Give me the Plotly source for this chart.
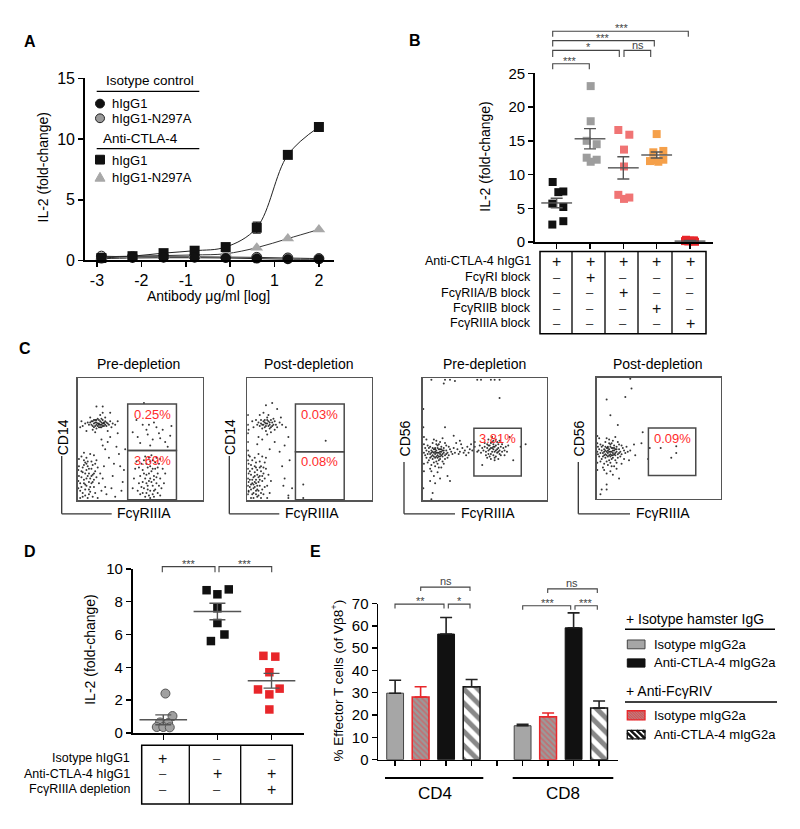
import plotly.graph_objects as go

W, H = 800, 829
def X(p): return p / W
def Y(p): return 1 - p / H
FONT = "Liberation Sans, Arial, Helvetica, sans-serif"

# ---------------- Panel A data ----------------
a_log_conc = [-2.9, -2.2, -1.5, -0.8, -0.1, 0.6, 1.3, 2.0]
a_iso_hIgG1 = [0.15, 0.2, 0.22, 0.22, 0.2, 0.15, 0.1, 0.1]
a_iso_n297a = [0.35, 0.3, 0.3, 0.3, 0.28, 0.25, 0.2, 0.15]
a_ctla4_hIgG1 = [0.2, 0.35, 0.6, 0.8, 1.1, 2.7, 8.7, 11.0]
a_ctla4_hIgG1_err = [0.1, 0.1, 0.15, 0.1, 0.15, 0.45, 0.25, 0.3]
a_ctla4_n297a = [0.3, 0.35, 0.4, 0.45, 0.55, 1.05, 1.8, 2.55]
a_yticks = [0, 5, 10, 15]
a_xticks = [-3, -2, -1, 0, 1, 2]
a_xticktext = ["-3", "-2", "-1", "0", "1", "2"]

# ---------------- Panel B data ----------------
b_values = [
    [8.9, 7.4, 7.5, 5.7, 5.2, 2.6, 3.1],
    [23.1, 17.9, 15.0, 14.5, 12.5, 12.2, 11.9],
    [16.6, 15.9, 13.7, 11.2, 7.0, 6.6, 6.4],
    [16.0, 13.5, 13.3, 12.2, 12.1, 11.9, 12.0],
    [0.35, 0.25, 0.2, 0.1, 0.05, 0.2, 0.15],
]
b_jitter = [
    [-0.12, 0.05, 0.2, -0.13, 0.2, -0.13, 0.2],
    [0.02, 0.02, -0.1, 0.2, -0.1, 0.2, 0.02],
    [-0.15, 0.18, 0.02, 0.02, -0.15, 0.18, 0.02],
    [0.0, 0.2, -0.1, 0.2, -0.1, 0.05, -0.2],
    [-0.12, 0.12, 0.0, -0.05, 0.15, 0.08, -0.15],
]
b_mean = [5.8, 15.3, 11.0, 12.9, 0.15]
b_sem = [0.7, 1.5, 1.65, 0.45, 0.1]
b_colors = ["#111111", "#9d9d9d", "#f07474", "#f5a04a", "#e8262a"]
b_row_labels = ["Anti-CTLA-4 hIgG1", "FcγRI block", "FcγRIIA/B block", "FcγRIIB block", "FcγRIIIA block"]
b_table = [
    ["+", "+", "+", "+", "+"],
    ["–", "+", "–", "–", "–"],
    ["–", "–", "+", "–", "–"],
    ["–", "–", "–", "+", "–"],
    ["–", "–", "–", "–", "+"],
]
b_yticks = [0, 5, 10, 15, 20, 25]

# ---------------- Panel C data (flow dots) ----------------
c1_dots = [
    (17,63),(15,64),(19,62),(13,63),(21,64),(16,61),(18,65),(14,61),(20,66),(12,65),(22,62),(17,60),(15,66),(19,60),(11,62),
    (23,64),(16,67),(18,62),(14,64),(20,63),(13,60),(21,61),(17,66),(10,64),(24,63),(15,62),(19,64),(12,61),(22,65),(16,63),
    (18,60),(14,66),(20,61),(9,62),(25,62),(17,62),(13,66),(21,63),(11,65),(23,61),(8,64),(26,65),(15,59),(19,67),(6,63),
    (28,63),(12,58),(22,68),(4,61),(30,62),(10,68),(27,60),(3,65),(18,70),(7,57),(32,65),(14,56),(24,57),(2,60),(20,72),
    (8,20),(6,22),(10,18),(5,17),(12,21),(7,25),(9,15),(4,23),(11,26),(6,13),(13,17),(3,19),(8,28),(10,11),(5,29),(14,24),
    (2,14),(9,22),(7,18),(11,14),(4,27),(12,29),(6,9),(15,19),(3,24),(8,32),(10,7),(1,20),(13,11),(5,33),(16,27),(2,8),(9,5),
    (7,35),(14,6),(4,3),(11,32),(17,14),(1,28),(6,4),(12,3),(18,22),(3,36),(15,33),(0.5,10),(8,2),(19,8),(1,34),(16,2),(10,38),
    (20,18),(2,2),(13,37),(0.5,16),(21,28),(5,39),(0.5,25),(22,11),(7,12),(9,26),(5,14),(11,20),(3,11),(13,22),(7,30),(9,9),
    (4,6),(12,15),(6,31),(14,30),
    (25,35),(28,20),(23,5),(31,44),(27,10),(34,28),(24,48),(30,3),(36,15),(26,52),(33,38),(22,42),(29,30),(35,8),(38,42),
    (20,45),(37,25),(19,50),(32,55),(26,72),(15,77),(20,77),
    (55,30),(58,28),(60,33),(52,25),(62,26),(57,22),(54,18),(61,20),(59,15),(56,12),(63,14),(53,10),(58,8),(60,5),(55,6),
    (62,9),(50,20),(64,22),(57,35),(51,30),(65,30),(49,14),(66,18),(54,3),(61,3),(48,8),(67,10),(59,24),(56,27),(53,33),
    (63,35),(46,26),(68,26),(58,18),(55,21),(60,12),(57,4),(52,15),(64,6),(47,32),(69,14),(50,5),(62,31),(45,18),(66,34),
    (59,37),(54,36),(61,17),(56,9),(58,2),(53,22),(63,19),(51,11),(65,12),(57,16),(60,26),(44,10),(70,22),(49,27),(66,4),
    (55,14),(61,8),(58,32),(52,6),(64,27),
    (48,52),(55,58),(60,50),(65,55),(52,62),(70,48),(58,45),(63,60),(47,66),(74,53),(56,54),(68,58),(61,64),(50,47),(72,44),
    (66,51),(57,62),(44,56),(75,61),(53,80),
]
c2_dots = [
    (16,63),(14,64),(18,62),(12,62),(20,64),(15,61),(17,65),(13,65),(19,60),(11,63),(21,62),(16,66),(14,60),(18,64),(10,61),
    (22,65),(15,63),(17,61),(13,62),(19,66),(12,59),(20,61),(16,68),(9,64),(23,62),(14,66),(18,59),(11,66),(21,67),(8,62),
    (24,60),(15,57),(17,70),(7,66),(26,64),(13,72),(19,56),(5,60),(28,62),(10,70),(22,58),(4,65),(27,68),(16,54),(31,60),
    (22,48),(30,45),(12,50),(26,40),(18,42),(33,52),(8,46),(24,75),(20,80),(15,78),(34,33),(28,28),(9,52),(36,10),(33,4),(30,18),
    (0.5,5),(0.5,12),(0.5,18),(0.5,26),(0.5,33),(0.5,41),(0.5,48),(0.5,55),(0.5,62),(0.5,70),(1,8),(1,22),(1,37),(1,58),
    (7,17),(5,19),(9,15),(4,14),(10,20),(6,23),(8,12),(3,21),(11,24),(5,10),(12,16),(2,17),(7,27),(9,8),(4,26),(13,22),(2,11),
    (8,21),(6,15),(10,12),(3,29),(11,28),(5,6),(14,18),(2,24),(7,31),(9,4),(1,15),(12,9),(4,33),(15,26),(1,7),(8,3),(6,35),
    (13,5),(3,2),(10,32),(16,12),(1,30),(5,2),(11,2),(17,21),(2,36),(14,31),(7,8),(18,6),(12,36),(16,2),(9,38),(19,16),(6,20),
    (8,25),(4,17),(10,17),(3,9),(11,6),(6,28),(13,27),(5,13),(9,19),(7,14),(8,9),(12,20),(4,5),(14,11),(6,11),(10,27),(15,35),
    (3,13),(7,5),
    (63,49),(45,13),(45,2),(29,12),(33,2),
]
c3_dots = [
    (12,39),(10,40),(14,38),(8,37),(16,41),(11,36),(13,42),(9,39),(15,37),(7,41),(17,39),(12,43),(10,35),(14,40),(6,38),
    (18,37),(11,39),(13,36),(9,42),(15,40),(8,34),(16,38),(12,45),(5,40),(19,41),(10,43),(14,34),(7,36),(17,43),(4,38),
    (20,39),(11,32),(13,46),(6,44),(18,34),(9,31),(15,44),(3,41),(21,37),(12,30),(8,47),(16,32),(2,37),(22,42),(10,28),
    (14,48),(5,33),(19,45),(7,29),(17,30),(4,45),(23,40),(11,49),(13,27),(3,35),(20,35),(9,50),(15,27),(2,43),(24,38),
    (6,26),(18,47),(12,35),(10,38),(14,42),(8,40),(16,36),(11,41),(13,39),(9,36),(15,42),(7,39),(12,37),(10,42),(14,36),
    (6,35),(17,41),(5,43),(19,38),(8,43),(11,46),(13,33),(4,31),(21,44),(1,39),(1,30),(1,46),(1,24),(1,52),(25,43),(26,39),
    (7,24),(12,23),(3,50),(16,51),(9,20),(14,18),(6,16),(20,20),(10,14),(22,16),(8,6),(7,1),(0.5,10),(0.5,60),(0.5,75),
    (28,42),(30,40),(32,43),(34,41),(36,44),(29,38),(33,39),(38,42),(31,46),(35,37),(40,41),(27,47),(37,39),(42,44),(39,46),
    (30,49),(25,53),(44,40),
    (57,42),(55,43),(59,41),(53,41),(61,43),(56,40),(58,44),(54,45),(60,39),(52,43),(62,41),(57,46),(55,38),(59,45),(51,40),
    (63,44),(56,43),(58,40),(54,42),(60,42),(53,38),(61,46),(57,37),(50,44),(64,40),(55,47),(59,36),(52,46),(62,38),(49,41),
    (65,43),(56,48),(58,35),(53,45),(61,40),(48,43),(66,41),(54,36),(60,48),(51,37),(63,37),(57,49),(47,39),(67,44),(55,34),
    (59,50),(50,47),(64,46),(52,35),(62,49),(68,40),(46,45),(56,52),(58,33),(69,45),(45,41),(53,50),(61,34),(66,37),(57,44),
    (70,52),(83,46),(73,33),(79,44),(48,29),(42,48),
    (7,99),(18,99),(22,99),(26,98),(44,99),(47,99),(55,99),(58,99),(62,99),(17,96),(62,84),(18,60),
]
c4_dots = [
    (11,39),(9,40),(13,38),(7,37),(15,41),(10,36),(12,42),(8,39),(14,37),(6,41),(16,39),(11,43),(9,35),(13,40),(5,38),
    (17,37),(10,39),(12,36),(8,42),(14,40),(7,34),(15,38),(11,45),(4,40),(18,41),(9,43),(13,34),(6,36),(16,43),(3,38),
    (19,39),(10,32),(12,46),(5,44),(17,34),(8,31),(14,44),(2,41),(20,37),(11,30),(7,47),(15,32),(1,37),(21,42),(9,28),
    (13,48),(4,33),(18,45),(6,29),(16,30),(3,45),(22,40),(10,49),(12,27),(2,35),(19,35),(8,50),(14,27),(1,43),(23,38),
    (5,26),(17,47),(11,35),(9,38),(13,42),(7,40),(15,36),(10,41),(12,39),(8,36),(14,42),(6,39),(11,37),(9,42),(13,36),
    (5,35),(16,41),(4,43),(18,38),(7,43),(10,46),(12,33),(3,31),(20,44),(0.5,39),(0.5,30),(0.5,46),(0.5,24),(0.5,52),
    (24,43),(25,39),(6,24),(11,23),(2,50),(15,51),(8,21),(13,20),(16,25),(20,29),(22,33),
    (27,99),(28,91),(8,82),(23,84),(11,69),(17,61),(37,55),(36,46),(30,45),(27,40),(31,36),(26,32),(4,8),(8,12),(8,8),
    (18,17),(3,4),
    (51.5,42),(42.7,42),(64,43.5),(64,38),(60,34),(41.3,33),
]
c_titles = ["Pre-depletion", "Post-depletion", "Pre-depletion", "Post-depletion"]
c_ylabels = ["CD14", "CD14", "CD56", "CD56"]
c_xlabel = "FcγRIIIA"
# gates: (x0, y0, x1, y1, percent label)
c_gates = [
    [(40, 41, 79, 79, "0.25%"), (40, 0.5, 79, 41, "3.69%")],
    [(38.7, 40, 77.9, 79, "0.03%"), (38.7, 0.5, 77.9, 40, "0.08%")],
    [(41.3, 20, 79.5, 59.2, "3.81%")],
    [(41.6, 19.5, 79.7, 58.4, "0.09%")],
]

# ---------------- Panel D data ----------------
d_values = [
    [2.4, 1.03, 0.64, 0.6, 0.36, 0.36, 0.34],
    [8.7, 8.75, 8.45, 7.6, 6.7, 6.0, 5.6],
    [4.7, 4.65, 3.7, 2.65, 2.7, 2.35, 1.43],
]
d_jitter = [
    [0.04, 0.17, -0.06, 0.09, -0.12, 0.0, 0.12],
    [-0.2, 0.21, 0.0, 0.0, 0.0, 0.13, -0.12],
    [-0.15, 0.07, -0.04, -0.25, 0.15, -0.04, -0.04],
]
d_mean = [0.8, 7.4, 3.18]
d_sem = [0.3, 0.5, 0.45]
d_row_labels = ["Isotype hIgG1", "Anti-CTLA-4 hIgG1", "FcγRIIIA depletion"]
d_table = [["+", "–", "–"], ["–", "+", "+"], ["–", "–", "+"]]
d_yticks = [0, 2, 4, 6, 8, 10]

# ---------------- Panel E data ----------------
e_groups = ["CD4", "CD8"]
e_series = ["Isotype mIgG2a", "Isotype mIgG2a + anti-FcγRIV", "Anti-CTLA-4 mIgG2a", "Anti-CTLA-4 mIgG2a + anti-FcγRIV"]
e_values = [[29.8, 15.2], [28.1, 19.2], [56.3, 59.1], [32.7, 23.1]]
e_err = [[5.8, 0.7], [4.6, 1.7], [7.4, 6.7], [3.2, 3.2]]
e_yticks = [0, 10, 20, 30, 40, 50, 60, 70]

# =====================================================================
fig = go.Figure()
shapes, annotations = [], []

def txt(x, y, s, size=13, xanchor="center", yanchor="middle", angle=0, color="black", bold=False):
    if bold:
        s = "<b>" + s + "</b>"
    annotations.append(dict(x=X(x), y=Y(y), xref="paper", yref="paper", text=s, showarrow=False,
                            xanchor=xanchor, yanchor=yanchor, textangle=angle,
                            font=dict(size=size, color=color, family=FONT)))

def seg(x0, y0, x1, y1, color="black", width=1.5):
    shapes.append(dict(type="line", xref="paper", yref="paper", x0=X(x0), y0=Y(y0), x1=X(x1), y1=Y(y1),
                       line=dict(color=color, width=width)))

def box(x0, y0, x1, y1, color="black", width=1.5, fill="rgba(0,0,0,0)"):
    shapes.append(dict(type="rect", xref="paper", yref="paper", x0=X(x0), y0=Y(y0), x1=X(x1), y1=Y(y1),
                       line=dict(color=color, width=width), fillcolor=fill))

def bracket(x1, x2, ytop, drop, label, lx=None, fs=11, color="#444"):
    path = "M{},{} L{},{} L{},{} L{},{}".format(X(x1), Y(ytop + drop), X(x1), Y(ytop), X(x2), Y(ytop), X(x2), Y(ytop + drop))
    shapes.append(dict(type="path", xref="paper", yref="paper", path=path, line=dict(color=color, width=1.1)))
    if lx is None:
        lx = (x1 + x2) / 2
    if label == "ns":
        txt(lx, ytop - 6, label, size=fs, color=color)
    else:
        txt(lx, ytop - 3, label, size=fs, color=color)

def hatch(x0, y0, x1, y1, step, color, width):
    c = x0 - y1
    while c < x1 - y0:
        lo = max(y0, x0 - c)
        hi = min(y1, x1 - c)
        if lo < hi:
            seg(lo + c, lo, hi + c, hi, color=color, width=width)
        c += step

axis_common = dict(showgrid=False, zeroline=False, showline=True, linecolor="black", linewidth=1.8,
                   ticks="outside", ticklen=5, tickwidth=1.5, tickcolor="black",
                   tickfont=dict(family=FONT, size=15, color="black"))

# ---------------- Panel A ----------------
for yv, col in [(a_iso_n297a, "#333"), (a_ctla4_n297a, "#333"), (a_ctla4_hIgG1, "#222"), (a_iso_hIgG1, "#222")]:
    fig.add_trace(go.Scatter(x=a_log_conc, y=yv, mode="lines", line=dict(color=col, width=1, shape="spline", smoothing=1.0),
                             xaxis="x", yaxis="y", showlegend=False, hoverinfo="skip", cliponaxis=False))
fig.add_trace(go.Scatter(x=a_log_conc, y=a_iso_n297a, mode="markers", xaxis="x", yaxis="y", showlegend=False, cliponaxis=False,
                         marker=dict(symbol="circle", size=10, color="#9a9a9a", line=dict(color="#222", width=1))))
fig.add_trace(go.Scatter(x=a_log_conc, y=a_ctla4_n297a, mode="markers", xaxis="x", yaxis="y", showlegend=False, cliponaxis=False,
                         marker=dict(symbol="triangle-up", size=11, color="#a8a8a8")))
fig.add_trace(go.Scatter(x=a_log_conc, y=a_ctla4_hIgG1, mode="markers", xaxis="x", yaxis="y", showlegend=False, cliponaxis=False,
                         error_y=dict(type="data", array=a_ctla4_hIgG1_err, color="#222", thickness=1.2, width=4),
                         marker=dict(symbol="square", size=10, color="#111")))
fig.add_trace(go.Scatter(x=a_log_conc, y=a_iso_hIgG1, mode="markers", xaxis="x", yaxis="y", showlegend=False, cliponaxis=False,
                         marker=dict(symbol="circle", size=10, color="#111")))

# Legend A (manual)
txt(150, 73.3, "Isotype control", size=13.5)
seg(96.7, 84.3, 199.3, 84.3, width=1.3)
shapes.append(dict(type="circle", xref="paper", yref="paper", x0=X(95.5), x1=X(104.5), y0=Y(101.2), y1=Y(92.2),
                   fillcolor="#111", line=dict(color="#111", width=1)))
txt(110, 97, "hIgG1", size=13, xanchor="left")
shapes.append(dict(type="circle", xref="paper", yref="paper", x0=X(95.5), x1=X(104.5), y0=Y(116.2), y1=Y(107.2),
                   fillcolor="#9a9a9a", line=dict(color="#222", width=1)))
txt(110, 112, "hIgG1-N297A", size=13, xanchor="left")
txt(140, 132.3, "Anti-CTLA-4", size=13.5)
seg(96.7, 142.7, 199.3, 142.7, width=1.3)
box(95.5, 149.5, 104.5, 158.5, color="#111", width=1, fill="#111")
txt(110, 154.5, "hIgG1", size=13, xanchor="left")
shapes.append(dict(type="path", xref="paper", yref="paper",
                   path="M{},{} L{},{} L{},{} Z".format(X(95), Y(176), X(105), Y(176), X(100), Y(167)),
                   fillcolor="#a8a8a8", line=dict(color="#a8a8a8", width=1)))
txt(110, 172, "hIgG1-N297A", size=13, xanchor="left")
txt(43, 162, "IL-2 (fold-change)", size=14, angle=-90)
txt(208, 293, "Antibody μg/ml [log]", size=14)

# ---------------- Panel B ----------------
for k in range(5):
    xs = [k + j for j in b_jitter[k]]
    fig.add_trace(go.Scatter(x=xs, y=b_values[k], mode="markers", xaxis="x2", yaxis="y2", showlegend=False, cliponaxis=False,
                             marker=dict(symbol="square", size=8, color=b_colors[k])))
fig.add_trace(go.Scatter(x=list(range(5)), y=b_mean, mode="markers", xaxis="x2", yaxis="y2", showlegend=False, cliponaxis=False,
                         marker=dict(symbol="line-ew", size=22, line=dict(color="#555", width=1.4)),
                         error_y=dict(type="data", array=b_sem, color="#555", thickness=1.4, width=6)))
box(540, 248, 706, 332, width=1.5)
b_cols = [556.7, 590, 623.3, 656.7, 690]
for dx in [572, 605, 638, 672]:
    seg(dx, 248, dx, 332, width=1.3)
b_rows = [258, 274, 290, 306, 321]
for r, lab in enumerate(b_row_labels):
    txt(533, b_rows[r], lab, size=12.5, xanchor="right")
    for c in range(5):
        s = b_table[r][c]
        txt(b_cols[c], b_rows[r], s, size=16 if s == "+" else 13, color="#111" if s == "+" else "#333")
txt(485, 150, "IL-2 (fold-change)", size=14, angle=-90)
bracket(552.7, 688.3, 22.7, 5.6, "***", lx=622)
bracket(552.7, 654.3, 32.3, 6, "***", lx=603)
bracket(552.7, 619.3, 42.3, 6.7, "*", lx=588)
bracket(624, 650.7, 42.3, 6.7, "ns", lx=637.7)
bracket(552.7, 589.3, 56, 5.7, "***", lx=570)

# ---------------- Panel C ----------------
c_dom_x = [(77.7, 202.7), (247.3, 371.7), (422.7, 546.7), (596.7, 721)]
c_dom_y = [(377.7, 502.3), (377.7, 502.3), (377.7, 502.3), (376.7, 501)]
c_all = [c1_dots, c2_dots, c3_dots, c4_dots]
c_title_x = [138, 309, 485, 658]
c_ylab_x = [63.3, 230, 405, 579]
c_ylab_y = [437.5, 437.5, 439, 439]
c_corner_x = [61.7, 229.3, 404, 578.3]
c_hend_x = [111.7, 279.3, 455, 630]
c_xlab_x = [144, 312, 488.3, 663.3]
c_vtop = [457, 457, 463, 463]
for i in range(4):
    xa, ya = "x%d" % (i + 3), "y%d" % (i + 3)
    dots = c_all[i]
    fig.add_trace(go.Scatter(x=[p[0] for p in dots], y=[p[1] for p in dots], mode="markers",
                             xaxis=xa, yaxis=ya, showlegend=False, hoverinfo="skip",
                             marker=dict(size=2, color="rgba(20,20,20,0.85)", line=dict(width=0))))
    for (gx0, gy0, gx1, gy1, lab) in c_gates[i]:
        shapes.append(dict(type="rect", xref=xa, yref=ya, x0=gx0, y0=gy0, x1=gx1, y1=gy1,
                           line=dict(color="#4a4a4a", width=1.5)))
        annotations.append(dict(x=(gx0 + gx1) / 2, y=gy1 - 8.5, xref=xa, yref=ya, text=lab, showarrow=False,
                                font=dict(size=13, color="#ff2b2b", family=FONT)))
    txt(c_title_x[i], 363, c_titles[i], size=14)
    txt(c_ylab_x[i], c_ylab_y[i], c_ylabels[i], size=14, angle=-90)
    seg(c_corner_x[i], c_vtop[i], c_corner_x[i], 516, color="#333", width=1.3)
    seg(c_corner_x[i], 516, c_hend_x[i], 516, color="#333", width=1.3)
    txt(c_xlab_x[i], 515, c_xlabel, size=14)

# ---------------- Panel D ----------------
d_style = [dict(symbol="circle", size=9, color="#a0a0a0", line=dict(color="#555", width=1)),
           dict(symbol="square", size=8.5, color="#111"),
           dict(symbol="square", size=8.5, color="#e8262a")]
for k in range(3):
    xs = [k + j for j in d_jitter[k]]
    fig.add_trace(go.Scatter(x=xs, y=d_values[k], mode="markers", xaxis="x7", yaxis="y7", showlegend=False,
                             cliponaxis=False, marker=d_style[k]))
fig.add_trace(go.Scatter(x=[0, 1, 2], y=d_mean, mode="markers", xaxis="x7", yaxis="y7", showlegend=False, cliponaxis=False,
                         marker=dict(symbol="line-ew", size=34, line=dict(color="#555", width=1.4)),
                         error_y=dict(type="data", array=d_sem, color="#555", thickness=1.4, width=8)))
box(141.7, 752.7, 292.3, 812.7, width=1.5)
for dx in [189.3, 240.7]:
    seg(dx, 752.7, dx, 812.7, width=1.3)
d_cols = [162.5, 217.3, 271.7]
d_rows = [765.7, 781.7, 797.7]
for r, lab in enumerate(d_row_labels):
    txt(132.3, d_rows[r], lab, size=12.5, xanchor="right")
    for c in range(3):
        s = d_table[r][c]
        txt(d_cols[c], d_rows[r], s, size=16 if s == "+" else 13, color="#111" if s == "+" else "#333")
txt(90, 655, "IL-2 (fold-change)", size=14, angle=-90)
bracket(162.3, 215, 570, 5.7, "***")
bracket(219, 271.7, 570, 5.7, "***")

# ---------------- Panel E ----------------
e_styles = [
    dict(color="#a6a6a6", line=dict(color="#444", width=1)),
    dict(color="#9a9a9a", line=dict(color="#e8262a", width=1.5),
         pattern=dict(shape="\\", fgcolor="#e8464a", bgcolor="#9a9a9a", size=4, solidity=0.45)),
    dict(color="#111", line=dict(color="#111", width=1)),
    dict(color="white", line=dict(color="#111", width=1.5),
         pattern=dict(shape="\\", fgcolor="#111", bgcolor="white", size=10, solidity=0.5)),
]
e_errcol = ["#222", "#e8262a", "#222", "#222"]
for k in range(4):
    xs = [g * 5 + k for g in range(len(e_groups))]
    fig.add_trace(go.Bar(x=xs, y=e_values[k], width=0.66, xaxis="x8", yaxis="y8", showlegend=False, marker=e_styles[k],
                         error_y=dict(type="data", symmetric=False, array=e_err[k], arrayminus=[0, 0],
                                      color=e_errcol[k], thickness=1.6, width=6)))
txt(336.7, 686.7, "% Effector T cells (of Vβ8<sup>+</sup>)", size=13.5, angle=-90)
seg(385, 786, 483.3, 786, width=2)
seg(512.7, 786, 613.3, 786, width=2)
txt(435, 802, e_groups[0], size=17)
txt(563.3, 802, e_groups[1], size=17)
bracket(395, 444, 608.3, 4.4, "**", lx=420)
bracket(448.3, 470, 608.3, 4.4, "*", lx=459.3)
bracket(420.7, 470, 591, 4, "ns", lx=445.7)
bracket(522.7, 570.7, 610, 4, "***", lx=548.3)
bracket(575, 597.3, 610, 4, "***", lx=585.7)
bracket(547.7, 597.3, 592.7, 4.3, "ns", lx=572.3)

# Legend E (manual)
txt(624, 623.3, "+ Isotype hamster IgG", size=14, xanchor="left")
seg(625, 634, 775, 634, width=1.5)
box(627.3, 645, 645, 654, color="#444", width=1, fill="#a6a6a6")
txt(651.7, 649.5, "Isotype mIgG2a", size=13, xanchor="left")
box(627.3, 664.3, 645, 672.7, color="#111", width=1, fill="#111")
txt(651.7, 668.5, "Anti-CTLA-4 mIgG2a", size=13, xanchor="left")
txt(624, 696.7, "+ Anti-FcγRIV", size=14, xanchor="left")
seg(625, 708.3, 777, 708.3, width=1.5)
box(627.3, 717.3, 645, 726.7, color="#e8262a", width=0.1, fill="#9a9a9a")
hatch(627.3, 717.3, 645, 726.7, 2.6, "#e8464a", 1.1)
box(627.3, 717.3, 645, 726.7, color="#e8262a", width=1.3)
txt(651.7, 722.3, "Isotype mIgG2a", size=13, xanchor="left")
box(627.3, 737.3, 645, 746, color="#111", width=0.1, fill="white")
hatch(627.3, 737.3, 645, 746, 6, "#111", 2.5)
box(627.3, 737.3, 645, 746, color="#111", width=1.3)
txt(651.7, 741.7, "Anti-CTLA-4 mIgG2a", size=13, xanchor="left")

# Panel letters
for lab, (lx, ly) in zip(["A", "B", "C", "D", "E"], [(30, 33), (415, 32), (25, 347), (30, 555), (315, 555)]):
    txt(lx, ly, lab, size=16, bold=True)

# ---------------- Layout ----------------
layout_axes = {}
layout_axes["xaxis"] = dict(axis_common, domain=[X(85), X(334)], range=[-3.27, 2.34], tickvals=a_xticks,
                            ticktext=a_xticktext, anchor="y", tickfont=dict(family=FONT, size=16, color="black"))
layout_axes["yaxis"] = dict(axis_common, domain=[Y(257), Y(71)], range=[0, 15], tickvals=a_yticks, anchor="x",
                            tickfont=dict(family=FONT, size=16, color="black"))
layout_axes["xaxis2"] = dict(axis_common, domain=[X(535), X(713)], range=[-0.65, 4.69], tickvals=[0, 1, 2, 3, 4],
                             showticklabels=False, anchor="y2")
layout_axes["yaxis2"] = dict(axis_common, domain=[Y(238.3), Y(65.7)], range=[0, 25], tickvals=b_yticks, anchor="x2")
for i in range(4):
    layout_axes["xaxis%d" % (i + 3)] = dict(domain=[X(c_dom_x[i][0]), X(c_dom_x[i][1])], range=[0, 100], showgrid=False,
                                            zeroline=False, showline=True, mirror=True, linecolor="#555", linewidth=1.3,
                                            showticklabels=False, ticks="", anchor="y%d" % (i + 3))
    layout_axes["yaxis%d" % (i + 3)] = dict(domain=[Y(c_dom_y[i][1]), Y(c_dom_y[i][0])], range=[0, 100], showgrid=False,
                                            zeroline=False, showline=True, mirror=True, linecolor="#555", linewidth=1.3,
                                            showticklabels=False, ticks="", anchor="x%d" % (i + 3))
layout_axes["xaxis7"] = dict(axis_common, domain=[X(132.7), X(304)], range=[-0.565, 2.6], tickvals=[0, 1, 2],
                             showticklabels=False, anchor="y7")
layout_axes["yaxis7"] = dict(axis_common, domain=[Y(740), Y(572.3)], range=[0, 10], tickvals=d_yticks, anchor="x7")
layout_axes["xaxis8"] = dict(axis_common, domain=[X(378.3), X(617.7)], range=[-0.66, 8.73], tickvals=list(range(9)),
                             showticklabels=False, anchor="y8")
layout_axes["yaxis8"] = dict(axis_common, domain=[Y(767.3), Y(607.7)], range=[0, 70], tickvals=e_yticks, anchor="x8")

fig.update_layout(width=W, height=H, margin=dict(l=0, r=0, t=0, b=0), autosize=False,
                  paper_bgcolor="white", plot_bgcolor="white", barmode="overlay", hovermode=False,
                  font=dict(family=FONT, color="black"), shapes=shapes, annotations=annotations, **layout_axes)
fig.write_html("out.html", config={"displayModeBar": False, "staticPlot": True},
               post_script="document.body.style.margin='0px';")
